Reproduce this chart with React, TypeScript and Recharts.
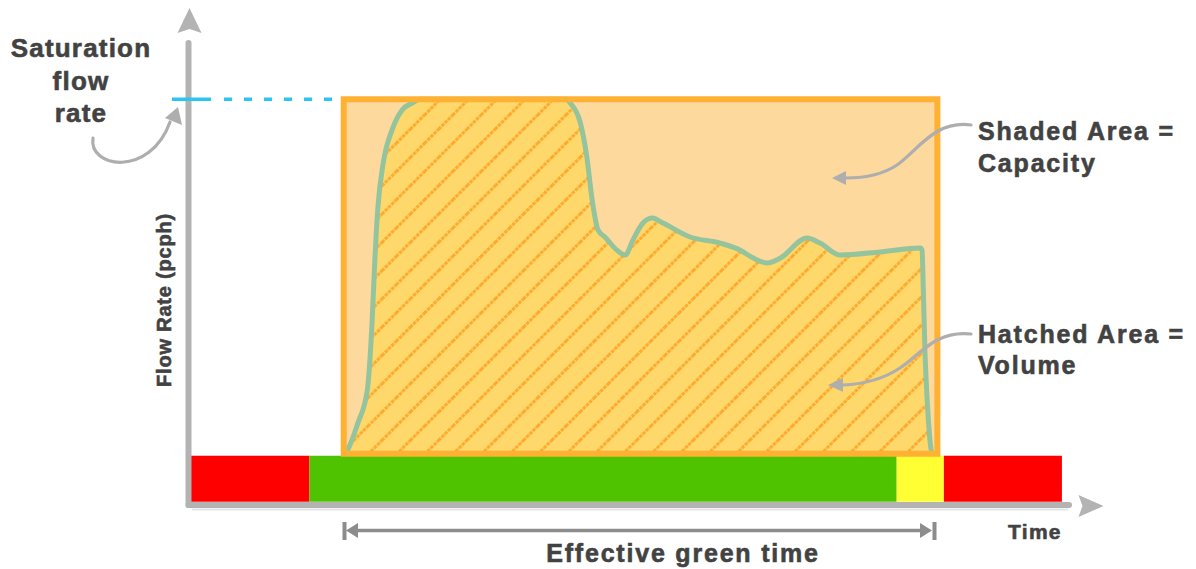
import React from 'react';
import { ComposedChart, Area, XAxis, YAxis, ReferenceArea, ReferenceLine } from 'recharts';

// ---- data (time in s, flow in pcph) ----
const time = [
  26.7, 27.0, 28.7, 30.3, 31.1, 31.6, 32.1, 33.0, 34.5, 36.2, 37.9, 39.2,
  64.0, 64.7, 66.4, 67.5, 68.4, 69.4, 70.6, 72.6, 74.0, 75.3, 77.0, 78.6,
  80.4, 85.0, 90.1, 93.5, 95.7, 98.1, 100.3, 104.8, 107.0, 110.4, 117.2,
  124.0, 124.3, 124.5, 124.8, 125.2, 125.85, 126.0,
];
const flow = [
  0, 19, 156, 324, 664, 999, 1253, 1477, 1645, 1746, 1781, 1800,
  1800, 1781, 1680, 1507, 1289, 1136, 1100, 1034, 1009, 1085, 1172, 1197,
  1172, 1101, 1070, 1034, 994, 969, 994, 1096, 1070, 1009, 1025,
  1045, 1035, 847, 512, 258, 19, 0,
];

const phaseNames = ['red', 'green', 'yellow', 'red'];
const phaseStart = [0, 20.5, 120, 128];
const phaseEnd = [20.5, 120, 128, 148];

const saturationFlow = 1800;
const effectiveGreenStart = 26.3;
const effectiveGreenEnd = 126.9;
const signalBandTop = -10;
const signalBandBottom = -244;
const xDomain = [0, 149.2];
const yDomain = [-260, 2086];

const yAxisTitle = 'Flow Rate (pcph)';
const xAxisTitle = 'Time';
const satLabel = ['Saturation', 'flow', 'rate'];
const capacityLabel = ['Shaded Area =', 'Capacity'];
const volumeLabel = ['Hatched Area =', 'Volume'];
const greenLabel = 'Effective green time';

const phaseColors: Record<string, string> = {
  red: '#FF0000',
  green: '#4FC300',
  yellow: '#FFFF33',
};

const data = time.map((t, i) => ({ t, flow: flow[i] }));

const FONT = '"Liberation Sans", Arial, Helvetica, sans-serif';
const TXT = '#424242';
const ARROW = '#AEAEAE';
const AXIS = '#B3B3B3';

export default function App() {
  return (
    <div style={{ position: 'absolute', left: 0, top: 0, width: 1196, height: 569, background: '#fff' }}>
      <ComposedChart
        width={1196}
        height={569}
        data={data}
        margin={{ top: 43, right: 127, bottom: 64, left: 188.5 }}
      >
        <defs>
          <pattern id="hatch" patternUnits="userSpaceOnUse" width="20" height="20" patternTransform="rotate(45)">
            <rect x="0" y="0" width="20" height="20" fill="#FED86B" />
            <line x1="1.5" y1="0" x2="1.5" y2="20" stroke="#FDAA30" strokeWidth="3" strokeDasharray="3.5 1" />
          </pattern>
        </defs>
        <XAxis type="number" dataKey="t" domain={xDomain} allowDataOverflow hide />
        <YAxis type="number" domain={yDomain} allowDataOverflow hide />
        {phaseNames.map((p, i) => (
          <ReferenceArea
            key={'ph' + i}
            x1={phaseStart[i]}
            x2={phaseEnd[i]}
            y1={signalBandTop}
            y2={signalBandBottom}
            fill={phaseColors[p]}
            fillOpacity={1}
            stroke="none"
          />
        ))}
        <ReferenceArea
          x1={effectiveGreenStart}
          x2={effectiveGreenEnd}
          y1={0}
          y2={saturationFlow}
          fill="#FDD99E"
          fillOpacity={1}
          stroke="none"
        />
        <Area
          type="monotone"
          dataKey="flow"
          stroke="#93C49D"
          strokeWidth={5}
          fill="url(#hatch)"
          fillOpacity={1}
          baseValue={0}
          dot={false}
          activeDot={false}
          isAnimationActive={false}
        />
        <ReferenceArea
          x1={effectiveGreenStart}
          x2={effectiveGreenEnd}
          y1={0}
          y2={saturationFlow}
          fill="none"
          stroke="#FFB134"
          strokeWidth={6}
        />
        {/* axes */}
        <ReferenceLine
          segment={[{ x: xDomain[0], y: yDomain[0] }, { x: xDomain[1], y: yDomain[0] }]}
          ifOverflow="visible"
          stroke={AXIS}
          strokeWidth={6}
          strokeLinecap="round"
        />
        <ReferenceLine
          segment={[{ x: xDomain[0], y: yDomain[0] }, { x: xDomain[0], y: yDomain[1] }]}
          ifOverflow="visible"
          stroke={AXIS}
          strokeWidth={6}
          strokeLinecap="round"
        />
        <ReferenceLine
          segment={[{ x: -2.8, y: saturationFlow }, { x: 24.5, y: saturationFlow }]}
          ifOverflow="visible"
          stroke="#2BC4F3"
          strokeWidth={3.4}
          strokeDasharray="39 13 8 12 8 12 8 12 8 12 8 12 8 12"
        />
      </ComposedChart>

      <svg
        width={1196}
        height={569}
        style={{ position: 'absolute', left: 0, top: 0, pointerEvents: 'none' }}
      >
        {/* axis arrowheads */}
        <polygon points="189.5,8 201.5,33 189.5,29 177.5,33" fill={AXIS} />
        <polygon points="1103.5,506 1078.5,495 1082.5,506 1078.5,517" fill={AXIS} />
        <line x1={192} y1={509.5} x2={1068} y2={509.5} stroke="#E6E6E6" strokeWidth={2} />

        {/* saturation arrow */}
        <path d="M 93 138 C 88 168, 150 178, 170 122" fill="none" stroke={ARROW} strokeWidth={3.2} strokeLinecap="round" />
        <polygon points="178,107 182,125 165,118" fill={ARROW} />

        {/* capacity arrow */}
        <path d="M 971 125 C 935 120, 918 150, 897 165 C 882 175, 862 178, 846 178" fill="none" stroke={ARROW} strokeWidth={3.2} strokeLinecap="round" />
        <polygon points="832,178 846,171 846,185" fill={ARROW} />

        {/* volume arrow */}
        <path d="M 971 334 C 935 330, 920 355, 900 368 C 885 378, 865 384, 843 385" fill="none" stroke={ARROW} strokeWidth={3.2} strokeLinecap="round" />
        <polygon points="828,385 843,378 843,392" fill={ARROW} />

        {/* effective green double arrow */}
        <line x1={356} y1={530.5} x2={922} y2={530.5} stroke="#8C8C8C" strokeWidth={3.5} />
        <rect x={342.5} y={522} width={4} height={18} fill="#8C8C8C" />
        <polygon points="346,530.5 358,523 358,538" fill="#8C8C8C" />
        <rect x={932.5} y={522} width={4} height={18} fill="#8C8C8C" />
        <polygon points="932,530.5 920,523 920,538" fill="#8C8C8C" />

        {/* texts */}
        <g fontFamily={FONT} fontWeight="bold" fill={TXT} stroke={TXT} strokeWidth={0.6}>
          {satLabel.map((s, i) => (
            <text key={s} x={81} y={57 + i * 32.5} fontSize={26} textAnchor="middle" letterSpacing={1.2}>
              {s}
            </text>
          ))}
          {capacityLabel.map((s, i) => (
            <text key={s} x={978} y={140 + i * 32} fontSize={25} letterSpacing={1.8}>
              {s}
            </text>
          ))}
          {volumeLabel.map((s, i) => (
            <text key={s} x={978} y={343 + i * 30.5} fontSize={25} letterSpacing={1.8}>
              {s}
            </text>
          ))}
          <text x={1008} y={539} fontSize={21} letterSpacing={1.3}>
            {xAxisTitle}
          </text>
          <text x={683} y={562} fontSize={25} textAnchor="middle" letterSpacing={1.8}>
            {greenLabel}
          </text>
          <text
            x={0}
            y={0}
            fontSize={20}
            textAnchor="middle"
            letterSpacing={0.8}
            transform="translate(170.5,300) rotate(-90)"
          >
            {yAxisTitle}
          </text>
        </g>
      </svg>
    </div>
  );
}
